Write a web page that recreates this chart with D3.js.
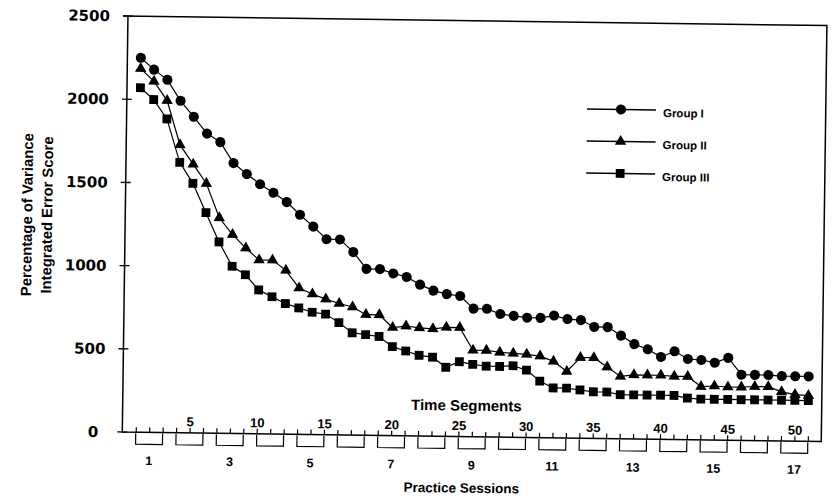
<!DOCTYPE html>
<html>
<head>
<meta charset="utf-8">
<script src="https://cdn.jsdelivr.net/npm/d3@7"></script>
<style>
  body { margin: 0; background: #fff; }
  text { font-family: "Liberation Sans", Arial, sans-serif; font-weight: bold; fill: #000; }
</style>
</head>
<body>
<svg width="832" height="498"></svg>
<script>
// Data
const segments = d3.range(1, 52); // time segments 1..51
const groupI = [2250, 2180, 2120, 1995, 1900, 1800, 1750, 1625, 1560, 1500,
  1450, 1395, 1320, 1250, 1175, 1175, 1100, 1000, 1000, 975,
  955, 910, 875, 855, 845, 770, 770, 740, 730, 720,
  720, 735, 715, 710, 670, 670, 620, 570, 540, 495,
  530, 485, 480, 465, 495, 395, 395, 395, 390, 390, 390];
const groupII = [2185, 2110, 1995, 1730, 1615, 1500, 1295, 1195, 1115, 1045,
  1045, 985, 880, 845, 815, 790, 770, 725, 725, 650,
  660, 650, 645, 655, 655, 520, 520, 510, 505, 500,
  490, 460, 400, 485, 485, 430, 375, 385, 385, 385,
  380, 380, 320, 325, 320, 320, 325, 325, 295, 280, 275];
const groupIII = [2070, 2000, 1885, 1625, 1500, 1325, 1150, 1005, 955, 865,
  825, 785, 760, 735, 725, 675, 615, 605, 595, 535,
  510, 485, 475, 415, 450, 435, 425, 425, 430, 405,
  340, 300, 300, 290, 280, 280, 265, 265, 265, 265,
  265, 250, 245, 245, 245, 245, 245, 245, 245, 245, 245];

const seriesNames = ["Group I", "Group II", "Group III"];
const seriesSymbols = [d3.symbolCircle, d3.symbolTriangle, d3.symbolSquare];
const seriesSizes = [80, 56, 78];

const yTicks = [0, 500, 1000, 1500, 2000, 2500];
const segTickLabels = [5, 10, 15, 20, 25, 30, 35, 40, 45, 50];
const sessions = d3.range(1, 18); // practice sessions 1..17
const sessionLabels = [1, 3, 5, 7, 9, 11, 13, 15, 17];

// Layout (the scan is tilted slightly clockwise)
const ox = 122.3, oy = 432, tilt = 0.78;

const x = d3.scaleLinear().domain([0, 52]).range([ox, ox + 699]);
const y = d3.scaleLinear().domain([0, 2500]).range([oy, oy - 416]);

const svg = d3.select("svg");
svg.append("rect").attr("width", 832).attr("height", 498).attr("fill", "#fff");

const g = svg.append("g").attr("transform", `rotate(${tilt},${ox},${oy})`);

// Frame
g.append("path")
  .attr("d", `M${ox - 5},${y(2500)}H${x(52)}V${oy}H${ox}V${y(2500)}`)
  .attr("fill", "none")
  .attr("stroke", "#000")
  .attr("stroke-width", 1.5);

// Y axis ticks crossing the axis
g.append("g")
  .selectAll("line")
  .data(yTicks)
  .join("line")
  .attr("x1", ox - 5)
  .attr("x2", ox + 5)
  .attr("y1", (d) => y(d))
  .attr("y2", (d) => y(d))
  .attr("stroke", "#000")
  .attr("stroke-width", 1.3);

g.append("g")
  .selectAll("text")
  .data(yTicks)
  .join("text")
  .attr("x", (d) => (d === 0 ? ox - 24 : ox - 18))
  .attr("y", (d) => y(d))
  .attr("dy", "0.36em")
  .attr("text-anchor", "end")
  .style("font-family", '"DejaVu Sans", sans-serif')
  .style("font-size", "15px")
  .text((d) => d);

// Time segment axis (ticks above the baseline)
const segAxis = g.append("g")
  .attr("transform", `translate(0,${oy})`)
  .call(
    d3.axisTop(x)
      .tickValues(segments)
      .tickSize(5)
      .tickPadding(1.5)
      .tickFormat((d) => (segTickLabels.includes(d) ? d : ""))
  );
segAxis.select(".domain").remove();
segAxis.selectAll(".tick line").attr("stroke", "#000").attr("stroke-width", 1.2);
segAxis.selectAll(".tick text")
  .attr("fill", "#000")
  .style("font-family", '"Liberation Sans", Arial, sans-serif')
  .style("font-weight", "bold")
  .style("font-size", "13px");

// Practice session brackets
g.append("g")
  .selectAll("path")
  .data(sessions)
  .join("path")
  .attr("d", (k) => `M${x(3 * k - 2)},${oy + 1}V${oy + 12}H${x(3 * k)}V${oy + 1}`)
  .attr("fill", "none")
  .attr("stroke", "#000")
  .attr("stroke-width", 1.2);

g.append("g")
  .selectAll("text")
  .data(sessionLabels)
  .join("text")
  .attr("x", (k) => x(3 * k - 1))
  .attr("y", oy + 32.7)
  .attr("text-anchor", "middle")
  .style("font-size", "12.5px")
  .text((k) => k);

// Axis titles
g.append("text")
  .attr("x", 466)
  .attr("y", 406)
  .attr("text-anchor", "middle")
  .style("font-size", "15px")
  .text("Time Segments");

g.append("text")
  .attr("x", 462)
  .attr("y", 488)
  .attr("text-anchor", "middle")
  .style("font-size", "13.5px")
  .text("Practice Sessions");

const yTitle = ["Percentage of Variance", "Integrated Error Score"];
g.append("g")
  .selectAll("text")
  .data(yTitle)
  .join("text")
  .attr("transform", (d, i) => `translate(${24 + i * 20},216) rotate(-90)`)
  .attr("text-anchor", "middle")
  .attr("dy", "0.35em")
  .style("font-size", "14.8px")
  .text((d) => d);

// Series
const allSeries = [groupI, groupII, groupIII];
const line = d3.line()
  .x((d, i) => x(segments[i]))
  .y((d) => y(d));

g.append("g")
  .selectAll("path")
  .data(allSeries)
  .join("path")
  .attr("d", line)
  .attr("fill", "none")
  .attr("stroke", "#000")
  .attr("stroke-width", 1.2);

allSeries.forEach((values, si) => {
  g.append("g")
    .selectAll("path")
    .data(values)
    .join("path")
    .attr("transform", (d, i) => `translate(${x(segments[i])},${y(d)})`)
    .attr("d", d3.symbol().type(seriesSymbols[si]).size(seriesSizes[si]))
    .attr("fill", "#000");
});

// Legend
const legend = g.append("g")
  .selectAll("g")
  .data(seriesNames)
  .join("g")
  .attr("transform", (d, i) => `translate(582.6,${102.7 + i * 32})`);

legend.append("line")
  .attr("x1", 0)
  .attr("x2", 69)
  .attr("stroke", "#000")
  .attr("stroke-width", 1.4);

legend.append("path")
  .attr("transform", "translate(34,0)")
  .attr("d", (d, i) => d3.symbol().type(seriesSymbols[i]).size(seriesSizes[i])());

legend.append("text")
  .attr("x", 76)
  .attr("y", 7)
  .style("font-size", "11.5px")
  .text((d) => d);
</script>
</body>
</html>
